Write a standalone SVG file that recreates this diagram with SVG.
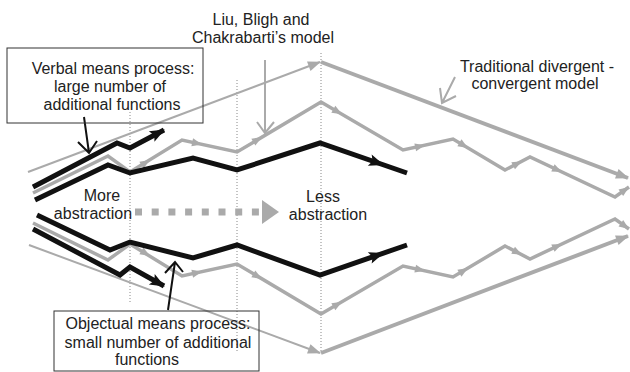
<svg xmlns="http://www.w3.org/2000/svg" width="630" height="372" viewBox="0 0 630 372">
<style>
text{font-family:"Liberation Sans",Arial,sans-serif;font-size:16px;fill:#222;text-anchor:middle}
.dot{stroke:#888;stroke-width:1;stroke-dasharray:1 2;fill:none}
.gthin{stroke:#aaa;stroke-width:2;fill:none}
.gthick{stroke:#aaa;stroke-width:4;fill:none}
.gliu{stroke:#aaa;stroke-width:3.5;fill:none;stroke-linejoin:miter}
.blk{stroke:#111;stroke-width:5;fill:none;stroke-linejoin:miter}
.am{stroke:none;fill:none}
.box{fill:none;stroke:#333;stroke-width:1}
.pg{stroke:#aaa;stroke-width:2;fill:none}
.pb{stroke:#111;stroke-width:2;fill:none}
</style>
<defs>
<marker id="ga" markerUnits="userSpaceOnUse" markerWidth="11" markerHeight="9" refX="10" refY="4" orient="auto" overflow="visible"><path d="M0,0 L10,4 L0,8 Z" fill="#aaa"/></marker>
<marker id="gaL" markerUnits="userSpaceOnUse" markerWidth="14" markerHeight="11" refX="12" refY="5" orient="auto" overflow="visible"><path d="M0,0 L13,5 L0,10 Z" fill="#aaa"/></marker>
<marker id="ba" markerUnits="userSpaceOnUse" markerWidth="16" markerHeight="13" refX="14" refY="6" orient="auto" overflow="visible"><path d="M0,0 L15,6 L0,12 L3,6 Z" fill="#111"/></marker>
</defs>

<g id="guides">
<line class="dot" x1="130" y1="112" x2="130" y2="302"/>
<line class="dot" x1="237" y1="80" x2="237" y2="353"/>
<line class="dot" x1="321" y1="53" x2="321" y2="353"/>
</g>

<g id="connectors">
<!-- traditional divergent-convergent model -->
<path class="gthin" d="M28,172 L320,62" marker-end="url(#gaL)"/>
<path class="gthick" d="M321,62 L628,178" marker-end="url(#gaL)"/>
<path class="gthin" d="M29,245 L320,353" marker-end="url(#gaL)"/>
<path class="gthick" d="M321,353 L628,236" marker-end="url(#gaL)"/>

<!-- Liu, Bligh and Chakrabarti's model -->
<path class="gliu" d="M33,193 L108,156 L130,172 L182,140 L237,152 L321,102 L403,150 L453,139 L505,170 L530,157 L615,197 L629,187" marker-end="url(#ga)"/>
<path class="gliu" d="M33,223 L108,260 L130,244 L182,276 L237,264 L321,314 L403,266 L453,277 L505,246 L530,259 L615,219 L629,229" marker-end="url(#ga)"/>
<g id="liu-arrows">
<path class="am" d="M145,163 L150,160" marker-end="url(#ga)"/>
<path class="am" d="M197,143.3 L202,144.4" marker-end="url(#ga)"/>
<path class="am" d="M257,140 L262,137.1" marker-end="url(#ga)"/>
<path class="am" d="M337,111.4 L342,114.3" marker-end="url(#ga)"/>
<path class="am" d="M420,146.3 L425,145.2" marker-end="url(#ga)"/>
<path class="am" d="M463,144.9 L468,147.9" marker-end="url(#ga)"/>
<path class="am" d="M517,163.8 L522,161.2" marker-end="url(#ga)"/>
<path class="am" d="M557,169.8 L562,172.1" marker-end="url(#ga)"/>
<path class="am" d="M145,253 L150,256" marker-end="url(#ga)"/>
<path class="am" d="M197,272.7 L202,271.6" marker-end="url(#ga)"/>
<path class="am" d="M257,276 L262,278.9" marker-end="url(#ga)"/>
<path class="am" d="M337,304.6 L342,301.7" marker-end="url(#ga)"/>
<path class="am" d="M420,269.7 L425,270.8" marker-end="url(#ga)"/>
<path class="am" d="M463,271.1 L468,268.1" marker-end="url(#ga)"/>
<path class="am" d="M517,252.2 L522,254.8" marker-end="url(#ga)"/>
<path class="am" d="M557,246.2 L562,243.9" marker-end="url(#ga)"/>
</g>

<!-- black processes -->
<path class="blk" d="M33,187 L117,143 L130,148 L164,130" marker-end="url(#ba)"/>
<path class="blk" d="M35,200 L108,165 L130,173 L193,158 L237,170 L320,143 L407,173"/>
<path class="am" d="M378,163 L383,164.7" marker-end="url(#ba)"/>
<path class="blk" d="M37,215 L110,250 L130,242 L193,258 L237,245 L320,275 L407,245"/>
<path class="am" d="M378,255 L383,253.3" marker-end="url(#ba)"/>
<path class="blk" d="M33,229 L120,275 L130,267 L164,286" marker-end="url(#ba)"/>

<!-- abstraction arrow -->
<line x1="135" y1="212" x2="262" y2="212" stroke="#aaa" stroke-width="7" stroke-dasharray="7 9.7"/>
<polygon points="262,200 279,212 262,224" fill="#aaa"/>

<!-- label pointers -->
<path class="pg" d="M265,60 L265,133 M257,122 L265,133 L274,122"/>
<path class="pg" d="M455,77 L442,103 M440,88 L442,103 L456,96"/>
<path class="pb" d="M84,117 L89,153 M78,142 L89,153 L97,141"/>
<path class="pb" d="M168,310 L175,262 M165,273 L175,262 L183,272"/>
</g>

<g id="liu-label">
<text x="261" y="25">Liu, Bligh and</text>
<text x="263" y="43">Chakrabarti’s model</text>
</g>
<g id="traditional-label">
<text x="537" y="72">Traditional divergent -</text>
<text x="535" y="89">convergent model</text>
</g>
<g id="verbal-box">
<rect class="box" x="7" y="48" width="196" height="75"/>
<text x="113" y="74">Verbal means process:</text>
<text x="110" y="92">large number of</text>
<text x="112" y="110">additional functions</text>
</g>
<g id="more-label">
<text x="102" y="201">More</text>
<text x="93" y="219">abstraction</text>
</g>
<g id="less-label">
<text x="323" y="202">Less</text>
<text x="328" y="220">abstraction</text>
</g>
<g id="objectual-box">
<rect class="box" x="54" y="311" width="205" height="60"/>
<text x="158" y="329">Objectual means process:</text>
<text x="158" y="348">small number of additional</text>
<text x="147" y="365">functions</text>
</g>
</svg>
